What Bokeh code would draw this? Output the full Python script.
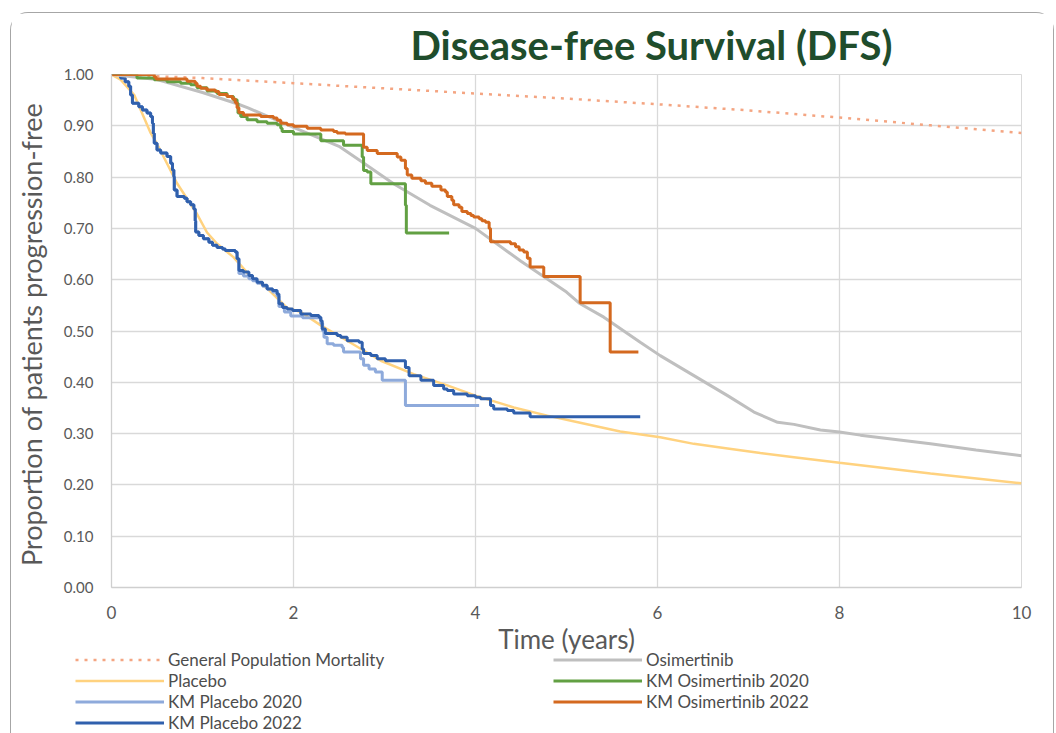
from bokeh.plotting import figure
from bokeh.layouts import column, row
from bokeh.models import Range1d, FixedTicker, Legend, LegendItem, NumeralTickFormatter
from bokeh.embed import file_html
from bokeh.resources import INLINE

# ---- general population mortality (survival) ----
pop_t = [0, 1, 2, 3, 4, 5, 6, 7, 8, 9, 10]
pop_s = [1.0, 0.993, 0.983, 0.973, 0.963, 0.953, 0.942, 0.930, 0.916, 0.901, 0.886]

# ---- modelled osimertinib DFS ----
osi_t = [0, 0.5, 1.0, 1.38, 1.5, 2.0, 2.5, 2.75, 3.1, 3.5, 4.0, 4.5, 5.0, 5.15, 5.41, 5.67,
         5.81, 6.03, 6.4, 6.77, 7.06, 7.32, 7.5, 7.79, 8.0, 8.23, 9.0, 9.5, 10.0]
osi_s = [1.0, 0.99, 0.965, 0.943, 0.935, 0.897, 0.86, 0.83, 0.787, 0.745, 0.70, 0.636, 0.576,
         0.553, 0.527, 0.495, 0.478, 0.452, 0.413, 0.374, 0.342, 0.322, 0.318, 0.307, 0.303,
         0.297, 0.28, 0.268, 0.257]

# ---- modelled placebo DFS ----
pla_t = [0, 0.1, 0.25, 0.43, 0.5, 0.72, 0.94, 1.05, 1.16, 1.34, 1.53, 1.71, 1.93, 2.08, 2.3,
         2.59, 2.96, 3.32, 3.69, 4.0, 4.42, 4.79, 5.15, 5.59, 6.03, 6.4, 6.77, 7.13, 7.5, 8.0,
         9.0, 10.0]
pla_s = [1.0, 0.99, 0.96, 0.886, 0.865, 0.788, 0.728, 0.692, 0.67, 0.644, 0.606, 0.583, 0.545,
         0.537, 0.511, 0.481, 0.442, 0.416, 0.394, 0.374, 0.351, 0.335, 0.321, 0.304, 0.293,
         0.28, 0.271, 0.262, 0.254, 0.243, 0.222, 0.203]

# ---- Kaplan-Meier: placebo, 2022 data cut ----
kmp22_t = [0, 0.10, 0.15, 0.19, 0.21, 0.23, 0.30, 0.34, 0.39, 0.43, 0.45, 0.46, 0.47, 0.50,
           0.54, 0.61, 0.65, 0.67, 0.685, 0.69, 0.72, 0.80, 0.83, 0.87, 0.905, 0.92, 0.925,
           0.96, 1.01, 1.07, 1.11, 1.16, 1.22, 1.25, 1.36, 1.38, 1.40, 1.45, 1.51, 1.55, 1.60,
           1.66, 1.71, 1.77, 1.82, 1.84, 1.88, 1.93, 1.99, 2.08, 2.19, 2.28, 2.30, 2.315, 2.35,
           2.48, 2.52, 2.59, 2.72, 2.755, 2.77, 2.85, 2.92, 3.01, 3.23, 3.27, 3.40, 3.54, 3.65,
           3.69, 3.76, 3.91, 4.0, 4.055, 4.165, 4.20, 4.35, 4.42, 4.60, 5.81]
kmp22_s = [1.0, 0.993, 0.986, 0.977, 0.960, 0.944, 0.937, 0.931, 0.925, 0.918, 0.905, 0.885,
           0.866, 0.853, 0.847, 0.840, 0.827, 0.814, 0.801, 0.775, 0.762, 0.759, 0.752, 0.746,
           0.738, 0.715, 0.693, 0.686, 0.680, 0.673, 0.667, 0.663, 0.660, 0.657, 0.654, 0.641,
           0.618, 0.615, 0.608, 0.602, 0.595, 0.589, 0.582, 0.579, 0.572, 0.553, 0.546, 0.543,
           0.540, 0.533, 0.530, 0.527, 0.520, 0.504, 0.495, 0.491, 0.488, 0.481, 0.478, 0.465,
           0.456, 0.452, 0.446, 0.442, 0.429, 0.413, 0.404, 0.394, 0.387, 0.384, 0.377, 0.374,
           0.371, 0.368, 0.355, 0.348, 0.345, 0.340, 0.333, 0.333]

# ---- Kaplan-Meier: placebo, 2020 data cut ----
kmp20_t = [0, 0.10, 0.15, 0.19, 0.21, 0.23, 0.30, 0.34, 0.39, 0.43, 0.45, 0.46, 0.47, 0.50,
           0.54, 0.61, 0.65, 0.67, 0.685, 0.69, 0.72, 0.80, 0.83, 0.87, 0.905, 0.92, 0.925,
           0.96, 1.01, 1.07, 1.11, 1.16, 1.22, 1.25, 1.36, 1.38, 1.40, 1.45, 1.51, 1.55, 1.60,
           1.66, 1.71, 1.77, 1.82, 1.84, 1.90, 1.97, 2.10, 2.30, 2.32, 2.335, 2.37, 2.44, 2.535,
           2.55, 2.736, 2.77, 2.83, 2.90, 2.975, 3.23, 4.04]
kmp20_s = [1.0, 0.993, 0.986, 0.977, 0.960, 0.944, 0.937, 0.931, 0.925, 0.918, 0.905, 0.885,
           0.866, 0.853, 0.847, 0.840, 0.827, 0.814, 0.801, 0.775, 0.762, 0.759, 0.752, 0.746,
           0.738, 0.715, 0.693, 0.686, 0.680, 0.673, 0.667, 0.663, 0.660, 0.657, 0.654, 0.641,
           0.612, 0.607, 0.602, 0.598, 0.593, 0.587, 0.582, 0.576, 0.568, 0.548, 0.537, 0.529,
           0.526, 0.515, 0.500, 0.488, 0.475, 0.472, 0.468, 0.459, 0.446, 0.433, 0.426, 0.420,
           0.404, 0.355, 0.355]

# ---- Kaplan-Meier: osimertinib, 2020 data cut ----
kmo20_t = [0, 0.28, 0.47, 0.61, 0.76, 0.87, 0.94, 1.05, 1.16, 1.27, 1.34, 1.38, 1.39, 1.42,
           1.49, 1.60, 1.71, 1.82, 1.86, 1.875, 2.0, 2.30, 2.55, 2.755, 2.77, 2.81, 2.85, 3.23,
           3.24, 3.71]
kmo20_s = [1.0, 0.993, 0.990, 0.986, 0.983, 0.980, 0.974, 0.968, 0.963, 0.957, 0.951, 0.944,
           0.925, 0.918, 0.912, 0.908, 0.905, 0.902, 0.895, 0.889, 0.884, 0.871, 0.862, 0.839,
           0.813, 0.810, 0.787, 0.745, 0.691, 0.691]

# ---- Kaplan-Meier: osimertinib, 2022 data cut ----
kmo22_t = [0, 0.47, 0.49, 0.83, 0.92, 0.94, 0.98, 1.05, 1.14, 1.18, 1.27, 1.33, 1.36, 1.38,
           1.40, 1.45, 1.64, 1.78, 1.82, 1.86, 1.93, 2.0, 2.15, 2.30, 2.44, 2.48, 2.57, 2.77,
           2.81, 2.92, 3.14, 3.18, 3.23, 3.25, 3.30, 3.40, 3.45, 3.52, 3.62, 3.67, 3.69, 3.74,
           3.76, 3.82, 3.85, 3.91, 3.95, 3.98, 4.04, 4.07, 4.11, 4.15, 4.165, 4.385, 4.44, 4.48,
           4.53, 4.57, 4.60, 4.75, 5.15, 5.48, 5.79]
kmo22_s = [1.0, 0.995, 0.991, 0.987, 0.983, 0.977, 0.973, 0.970, 0.967, 0.961, 0.957, 0.952,
           0.945, 0.935, 0.926, 0.921, 0.918, 0.915, 0.911, 0.905, 0.902, 0.899, 0.895, 0.892,
           0.889, 0.886, 0.884, 0.858, 0.852, 0.846, 0.839, 0.833, 0.817, 0.804, 0.798, 0.793,
           0.788, 0.782, 0.775, 0.771, 0.762, 0.755, 0.746, 0.741, 0.733, 0.729, 0.725, 0.722,
           0.719, 0.715, 0.712, 0.700, 0.674, 0.670, 0.664, 0.658, 0.654, 0.642, 0.625, 0.606,
           0.555, 0.459, 0.459]

x_ticks = [0, 2, 4, 6, 8, 10]
y_ticks = [0.0, 0.1, 0.2, 0.3, 0.4, 0.5, 0.6, 0.7, 0.8, 0.9, 1.0]

FONT = "Lato"
TEXT_GREY = "#595959"
GRID = "#d9d9d9"

# series styles: name -> (colour, width, dash)
STYLE = {
    "General Population Mortality": ("#f4a582", 2.5, "3 6"),
    "Placebo": ("#ffd27f", 2.5, "solid"),
    "KM Placebo 2020": ("#8eaadb", 3, "solid"),
    "KM Placebo 2022": ("#3060ad", 3, "solid"),
    "Osimertinib": ("#bfbfbf", 3, "solid"),
    "KM Osimertinib 2020": ("#62a043", 3, "solid"),
    "KM Osimertinib 2022": ("#d4691f", 3, "solid"),
}
LEFT_COL = ["General Population Mortality", "Placebo", "KM Placebo 2020", "KM Placebo 2022"]
RIGHT_COL = ["Osimertinib", "KM Osimertinib 2020", "KM Osimertinib 2022"]


def sty(name):
    c, w, d = STYLE[name]
    return dict(line_color=c, line_width=w, line_dash=d)


# ---------------- main chart ----------------
p = figure(width=1042, height=650, x_range=Range1d(0, 10), y_range=Range1d(0, 1),
           output_backend="svg", toolbar_location=None,
           min_border_left=100, min_border_right=32, min_border_top=61, min_border_bottom=76)
p.background_fill_color = "white"
p.border_fill_color = "white"
p.outline_line_color = GRID

p.title.text = "Disease-free Survival (DFS)"
p.title.align = "left"
p.title.offset = 299
p.title.standoff = 11
p.title.text_font = FONT
p.title.text_font_style = "bold"
p.title.text_font_size = "40px"
p.title.text_color = "#1f4d2c"

p.xgrid.grid_line_color = GRID
p.ygrid.grid_line_color = GRID
p.xgrid.grid_line_width = 1.3
p.ygrid.grid_line_width = 1.3

p.xaxis.ticker = FixedTicker(ticks=x_ticks)
p.yaxis.ticker = FixedTicker(ticks=y_ticks)
p.yaxis.formatter = NumeralTickFormatter(format="0.00")
for ax in (p.xaxis, p.yaxis):
    ax.axis_line_color = "#cfcfcf"
    ax.axis_line_width = 1.3
    ax.major_tick_line_color = None
    ax.minor_tick_line_color = None
    ax.major_tick_out = 0
    ax.major_tick_in = 0
    ax.minor_tick_out = 0
    ax.major_label_text_font = FONT
    ax.major_label_text_color = TEXT_GREY
    ax.axis_label_text_font = FONT
    ax.axis_label_text_font_style = "normal"
    ax.axis_label_text_color = TEXT_GREY

p.xaxis.major_label_text_font_size = "17px"
p.yaxis.major_label_text_font_size = "15px"
p.xaxis.major_label_standoff = 18
p.yaxis.major_label_standoff = 18
p.xaxis.axis_label = "Time (years)"
p.xaxis.axis_label_text_font_size = "26px"
p.xaxis.axis_label_standoff = 1
p.yaxis.axis_label = "Proportion  of patients progression-free"
p.yaxis.axis_label_text_font_size = "27px"
p.yaxis.axis_label_standoff = 13

# curves, in drawing order
p.line(pop_t, pop_s, **sty("General Population Mortality"))
p.line(pla_t, pla_s, **sty("Placebo"))
p.step(kmp20_t, kmp20_s, mode="after", **sty("KM Placebo 2020"))
p.step(kmp22_t, kmp22_s, mode="after", **sty("KM Placebo 2022"))
p.line(osi_t, osi_s, **sty("Osimertinib"))
p.step(kmo20_t, kmo20_s, mode="after", **sty("KM Osimertinib 2020"))
p.step(kmo22_t, kmo22_s, mode="after", **sty("KM Osimertinib 2022"))

# ---------------- legend strip ----------------
lg = figure(width=1042, height=84, x_range=Range1d(0, 1), y_range=Range1d(0, 1),
            output_backend="svg", toolbar_location=None,
            x_axis_location=None, y_axis_location=None,
            min_border_left=0, min_border_right=0, min_border_top=0, min_border_bottom=0)
lg.outline_line_color = None
lg.xgrid.visible = False
lg.ygrid.visible = False
lg.border_fill_alpha = 0
lg.background_fill_alpha = 0

# style-only stand-ins that carry each series' line look into the legend
nan = float("nan")
proxies = {name: lg.line([nan], [nan], **sty(name)) for name in STYLE}


def make_legend(names, loc):
    leg = Legend(items=[LegendItem(label=n, renderers=[proxies[n]]) for n in names],
                 location=loc, orientation="vertical")
    leg.background_fill_alpha = 0
    leg.border_line_color = None
    leg.padding = 0
    leg.margin = 0
    leg.spacing = 0
    leg.glyph_width = 89
    leg.glyph_height = 21
    leg.label_height = 21
    leg.label_standoff = 4
    leg.label_text_font = FONT
    leg.label_text_font_size = "17px"
    leg.label_text_color = "#4d4d4d"
    return leg


lg.add_layout(make_legend(LEFT_COL, (64, 0)))
lg.add_layout(make_legend(RIGHT_COL, (542, 21)))

strip = row(lg)
strip.margin = (-14, 0, 0, 0)

page = column(p, strip, spacing=0)
page.margin = (12, 0, 0, 10)
page.styles = {"border-top": "1.5px solid #a6a6a6", "border-left": "1.5px solid #a6a6a6",
               "border-right": "1.5px solid #a6a6a6", "border-radius": "18px 18px 0 0",
               "background": "white"}

with open("out.html", "w") as f:
    f.write(file_html(page, INLINE))
